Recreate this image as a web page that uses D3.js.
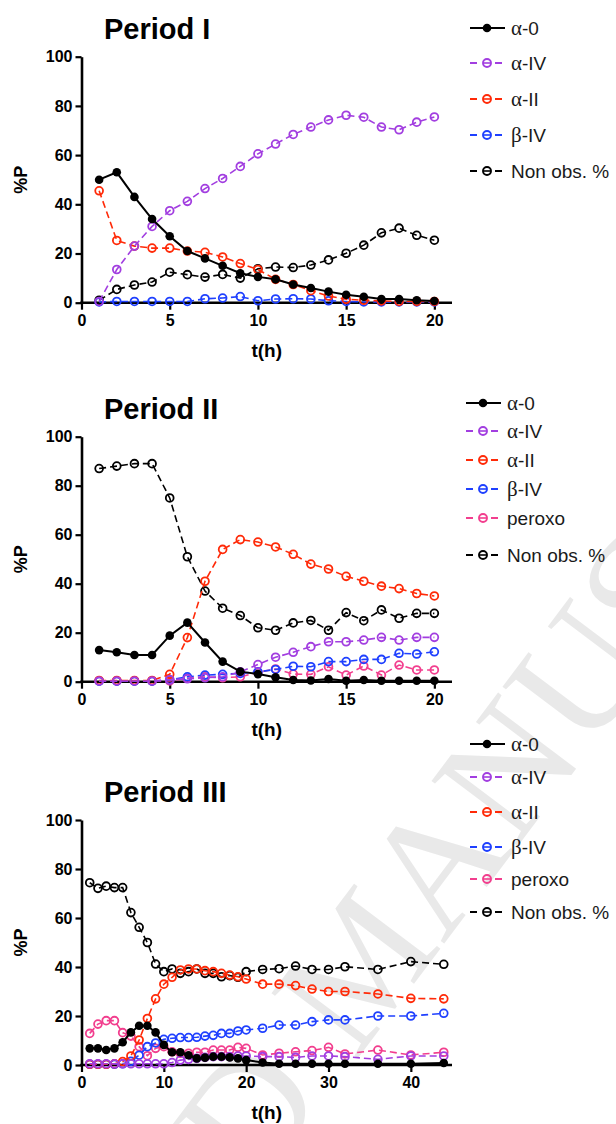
<!DOCTYPE html>
<html>
<head>
<meta charset="utf-8">
<script src="https://cdn.jsdelivr.net/npm/d3@7"></script>
<style>
  body { margin: 0; background: #fff; }
  svg { display: block; }
</style>
</head>
<body>
<svg id="chart" width="616" height="1124"></svg>
<script>
// ---- time points (hours) ----
const hoursShort = [1, 2, 3, 4, 5, 6, 7, 8, 9, 10, 11, 12, 13, 14, 15, 16, 17, 18, 19, 20];
const hoursLong  = [1, 2, 3, 4, 5, 6, 7, 8, 9, 10, 11, 12, 13, 14, 15, 16, 17, 18, 19, 20,
                    22, 24, 26, 28, 30, 32, 36, 40, 44];

// ---- axis ticks ----
const yTicks = [0, 20, 40, 60, 80, 100];
const xTicksShort = [0, 5, 10, 15, 20];
const xTicksLong  = [0, 10, 20, 30, 40];

// ---- Period I (%P) ----
const p1Alpha0  = [50, 53, 43, 34, 27, 21, 18, 15, 12, 10.5, 9.5, 7.4, 6, 4.5, 3.2, 2.4, 1.5, 1.5, 1, 0.7];
const p1AlphaIV = [0.5, 13.5, 23, 31, 37.4, 41.2, 46.4, 50.5, 55.4, 60.5, 64.5, 68.4, 71.4, 74.3, 76.2, 75.4, 71.4, 70.3, 73.4, 75.5];
const p1AlphaII = [45.5, 25.3, 23, 22.2, 22.2, 21, 20.5, 18.6, 15.9, 13.5, 9.5, 7.4, 4.9, 2.7, 1.4, 1, 0.7, 0.5, 0.5, 0.5];
const p1BetaIV  = [0.3, 0.5, 0.5, 0.5, 0.5, 0.5, 1.6, 1.9, 2.5, 0.8, 1.5, 1.6, 1.5, 0.8, 0.5, 0.3, 0.3, 0.3, 0.3, 0.3];
const p1NonObs  = [1, 5.4, 7.2, 8.4, 12.4, 11.4, 10.4, 11.5, 10, 13.8, 14.5, 14.3, 15.3, 17.4, 20.1, 23.4, 28.4, 30.3, 27.4, 25.4];

// ---- Period II (%P) ----
const p2Alpha0  = [12.9, 12, 10.9, 10.9, 18.8, 24.1, 16, 8.2, 4.1, 3.1, 1.8, 0.7, 0.5, 1.1, 0.4, 0.7, 0.4, 0.4, 0.4, 0.4];
const p2AlphaIV = [0.3, 0.3, 0.3, 0.3, 0.8, 1.2, 1.6, 2, 4, 7, 10, 12, 14.3, 16.3, 16.3, 17, 18.1, 17, 18.1, 18.1];
const p2AlphaII = [0.5, 0.5, 0.5, 0.5, 3, 18, 41, 54, 58, 57, 55, 52, 48, 46, 43, 41, 39, 38, 36, 35];
const p2BetaIV  = [0.2, 0.2, 0.2, 0.2, 0.8, 2, 2.7, 3, 3.4, 4, 5, 6.3, 6.1, 8.2, 8.2, 9.1, 9.1, 11.6, 11.3, 12.2];
const p2Peroxo  = [0.3, 0.3, 0.3, 0.3, 0.3, 1.4, 2, 1.6, 2, 3.8, 5.2, 3.1, 3, 6.1, 2.7, 6.4, 2.7, 6.8, 4.8, 4.8];
const p2NonObs  = [87, 88, 89, 89, 75, 51, 37, 30, 27, 22, 21, 24, 25, 21, 28.2, 24.9, 29.3, 25.9, 27.9, 27.9];

// ---- Period III (%P) ----
const p3Alpha0  = [6.8, 6.8, 6.1, 6.8, 9.3, 13.3, 16, 16, 13.3, 8.2, 5.2, 5.2, 4, 2.7, 3, 3.4, 3.4, 3.1, 2.7, 2,
                   1, 0.5, 0.5, 0.5, 0.5, 0.5, 0.5, 0.5, 0.8];
const p3AlphaIV = [0.5, 0.5, 0.5, 0.5, 0.5, 0.5, 0.5, 0.5, 0.5, 0.5, 1, 2, 2.3, 2.7, 3.1, 3.4, 3.4, 3.4, 3.7, 3.7,
                   3.4, 3.4, 3.1, 3.7, 3.7, 3.4, 2.3, 3.7, 3.7];
const p3AlphaII = [0.3, 0.3, 0.3, 0.5, 1.4, 3.7, 10.2, 19, 27, 33, 35.8, 38.8, 39.2, 39.2, 38.5, 38.1, 37.4, 36.7, 36, 35.1,
                   33, 33, 32.4, 31, 30, 30, 29, 27.2, 27];
const p3BetaIV  = [0.3, 0.3, 0.3, 0.3, 0.5, 1.5, 4, 7.5, 9, 10.5, 10.9, 11.2, 11.2, 11.3, 11.8, 12.1, 12.9, 12.9, 13.9, 14.3,
                   15, 16.3, 16.3, 17.7, 18.4, 18.4, 20, 20, 21.1];
const p3Peroxo  = [12.9, 16.7, 18.1, 18.1, 13.2, 11.8, 7.5, 3.8, 6.8, 7.5, 5.4, 4.8, 4.8, 5.2, 5.2, 6.1, 6.1, 6.1, 7.2, 6.8,
                   4.1, 4.8, 5.4, 5.9, 7.2, 4.5, 6.1, 4.1, 5.2];
const p3NonObs  = [74.4, 72.1, 73, 72.4, 72.4, 62.2, 56.2, 50, 41.2, 38.1, 39.2, 37.4, 38.1, 39.2, 37.4, 37.4, 36, 36.5, 35.8, 38.1,
                   39, 39.3, 40.4, 39, 39, 40.1, 39, 42.2, 41.1];

// ---- series names / appearance ----
const seriesStyle = {
  "α-0":        { color: "#000000", filled: true,  dash: null },
  "α-IV":       { color: "#a23ee0", filled: false, dash: "7,4" },
  "α-II":       { color: "#ff2a08", filled: false, dash: "7,4" },
  "β-IV":       { color: "#1f40ff", filled: false, dash: "7,4" },
  "peroxo":     { color: "#f23e8e", filled: false, dash: "7,4" },
  "Non obs. %": { color: "#000000", filled: false, dash: "7,4" }
};

const panels = [
  {
    title: "Period I", hours: hoursShort, xMax: 21, xTicks: xTicksShort,
    top: 56.7, bottom: 302.7,
    legendX: 470, legendY: [28, 63, 99, 135, 171],
    series: [
      ["α-0", p1Alpha0], ["α-IV", p1AlphaIV], ["α-II", p1AlphaII],
      ["β-IV", p1BetaIV], ["Non obs. %", p1NonObs]
    ]
  },
  {
    title: "Period II", hours: hoursShort, xMax: 21, xTicks: xTicksShort,
    top: 436.7, bottom: 681.7,
    legendX: 466, legendY: [403, 431, 460, 489, 518, 555],
    series: [
      ["α-0", p2Alpha0], ["α-IV", p2AlphaIV], ["α-II", p2AlphaII],
      ["β-IV", p2BetaIV], ["peroxo", p2Peroxo], ["Non obs. %", p2NonObs]
    ]
  },
  {
    title: "Period III", hours: hoursLong, xMax: 45, xTicks: xTicksLong,
    top: 820, bottom: 1065,
    legendX: 470, legendY: [744, 777, 812, 847, 879, 912],
    series: [
      ["α-0", p3Alpha0], ["α-IV", p3AlphaIV], ["α-II", p3AlphaII],
      ["β-IV", p3BetaIV], ["peroxo", p3Peroxo], ["Non obs. %", p3NonObs]
    ]
  }
];

const svg = d3.select("#chart");
const left = 81.5, right = 452;
const sans = "'Liberation Sans', Arial, Helvetica, sans-serif";
const serif = "'Liberation Serif', 'Times New Roman', serif";

// ---- faint page watermark, clipped to the page ----
svg.append("clipPath").attr("id", "page")
  .append("rect").attr("width", 616).attr("height", 1124);
const wm = svg.append("g")
  .attr("clip-path", "url(#page)")
  .append("g")
  .attr("transform", "translate(355,1062) rotate(-53)")
  .attr("font-family", serif)
  .attr("font-size", 165)
  .attr("fill", "#e9e9e9");
wm.append("text").attr("x", 0).attr("y", 0).attr("text-anchor", "start").text("MANUSCRIPT");
wm.append("text").attr("x", -45).attr("y", 0).attr("text-anchor", "end").text("ACCEPTED");

// writes a label, drawing a leading Greek letter in a serif face
function writeLabel(sel, label) {
  const first = label.charAt(0);
  if (first === "α" || first === "β") {
    sel.append("tspan").attr("font-family", serif).attr("font-size", 21).text(first);
    sel.append("tspan").text(label.slice(1));
  } else {
    sel.text(label);
  }
}

panels.forEach(p => {
  const g = svg.append("g");
  const x = d3.scaleLinear().domain([0, p.xMax]).range([left, right]);
  const y = d3.scaleLinear().domain([0, 100]).range([p.bottom, p.top]);

  // title
  g.append("text")
    .attr("x", 104).attr("y", p.top - 18)
    .attr("font-family", sans).attr("font-weight", "bold").attr("font-size", 29)
    .attr("fill", "#000")
    .text(p.title);

  // y axis
  const yAxis = g.append("g")
    .attr("transform", `translate(${left},0)`)
    .call(d3.axisLeft(y).tickValues(yTicks).tickSize(6).tickPadding(3).tickSizeOuter(0));
  // x axis
  const xAxis = g.append("g")
    .attr("transform", `translate(0,${p.bottom})`)
    .call(d3.axisBottom(x).tickValues(p.xTicks).tickSize(7).tickPadding(5).tickSizeOuter(0));

  [yAxis, xAxis].forEach(a => {
    a.select(".domain").attr("stroke", "#000").attr("stroke-width", 2.6);
    a.selectAll(".tick line").attr("stroke", "#000").attr("stroke-width", 2.2);
    a.selectAll(".tick text")
      .attr("font-family", sans).attr("font-weight", "bold").attr("font-size", 16).attr("fill", "#000");
  });
  xAxis.select(".domain").attr("d", `M${left - 1.3},0H${right}`);

  // axis titles
  g.append("text")
    .attr("x", (left + right) / 2).attr("y", p.bottom + 54)
    .attr("text-anchor", "middle")
    .attr("font-family", sans).attr("font-weight", "bold").attr("font-size", 19)
    .text("t(h)");
  g.append("text")
    .attr("transform", `translate(27,${(p.top + p.bottom) / 2}) rotate(-90)`)
    .attr("text-anchor", "middle")
    .attr("font-family", sans).attr("font-weight", "bold").attr("font-size", 18)
    .text("%P");

  // data series, last legend entry drawn first so α-0 sits on top
  const line = d3.line().x(d => x(d[0])).y(d => y(d[1]));
  p.series.slice().reverse().forEach(([name, vals]) => {
    const st = seriesStyle[name];
    const pts = p.hours.map((h, i) => [h, vals[i]]);
    const sg = g.append("g");
    sg.append("path")
      .datum(pts)
      .attr("d", line)
      .attr("fill", "none")
      .attr("stroke", st.color)
      .attr("stroke-width", st.filled ? 2 : 1.6)
      .attr("stroke-dasharray", st.dash);
    sg.selectAll("circle")
      .data(pts)
      .join("circle")
      .attr("cx", d => x(d[0]))
      .attr("cy", d => y(d[1]))
      .attr("r", st.filled ? 4.3 : 3.9)
      .attr("fill", st.filled ? st.color : "none")
      .attr("stroke", st.color)
      .attr("stroke-width", st.filled ? 0 : 1.8);
  });

  // legend
  p.series.forEach(([name], i) => {
    const st = seriesStyle[name];
    const ly = p.legendY[i];
    const lg = g.append("g").attr("transform", `translate(${p.legendX},${ly})`);
    if (st.filled) {
      lg.append("line").attr("x1", 0).attr("x2", 35).attr("y1", 0).attr("y2", 0)
        .attr("stroke", st.color).attr("stroke-width", 2);
      lg.append("circle").attr("cx", 17).attr("cy", 0).attr("r", 4.3).attr("fill", st.color);
    } else {
      lg.append("line").attr("x1", 0).attr("x2", 7).attr("y1", 0).attr("y2", 0)
        .attr("stroke", st.color).attr("stroke-width", 2);
      lg.append("line").attr("x1", 25).attr("x2", 32).attr("y1", 0).attr("y2", 0)
        .attr("stroke", st.color).attr("stroke-width", 2);
      lg.append("line").attr("x1", 13).attr("x2", 21).attr("y1", 0).attr("y2", 0)
        .attr("stroke", st.color).attr("stroke-width", 1.6);
      lg.append("circle").attr("cx", 17).attr("cy", 0).attr("r", 4)
        .attr("fill", "none").attr("stroke", st.color).attr("stroke-width", 1.9);
    }
    const t = lg.append("text")
      .attr("x", 41).attr("y", 6.5)
      .attr("font-family", sans).attr("font-size", 19).attr("fill", "#1a1a1a");
    writeLabel(t, name);
  });
});
</script>
</body>
</html>
